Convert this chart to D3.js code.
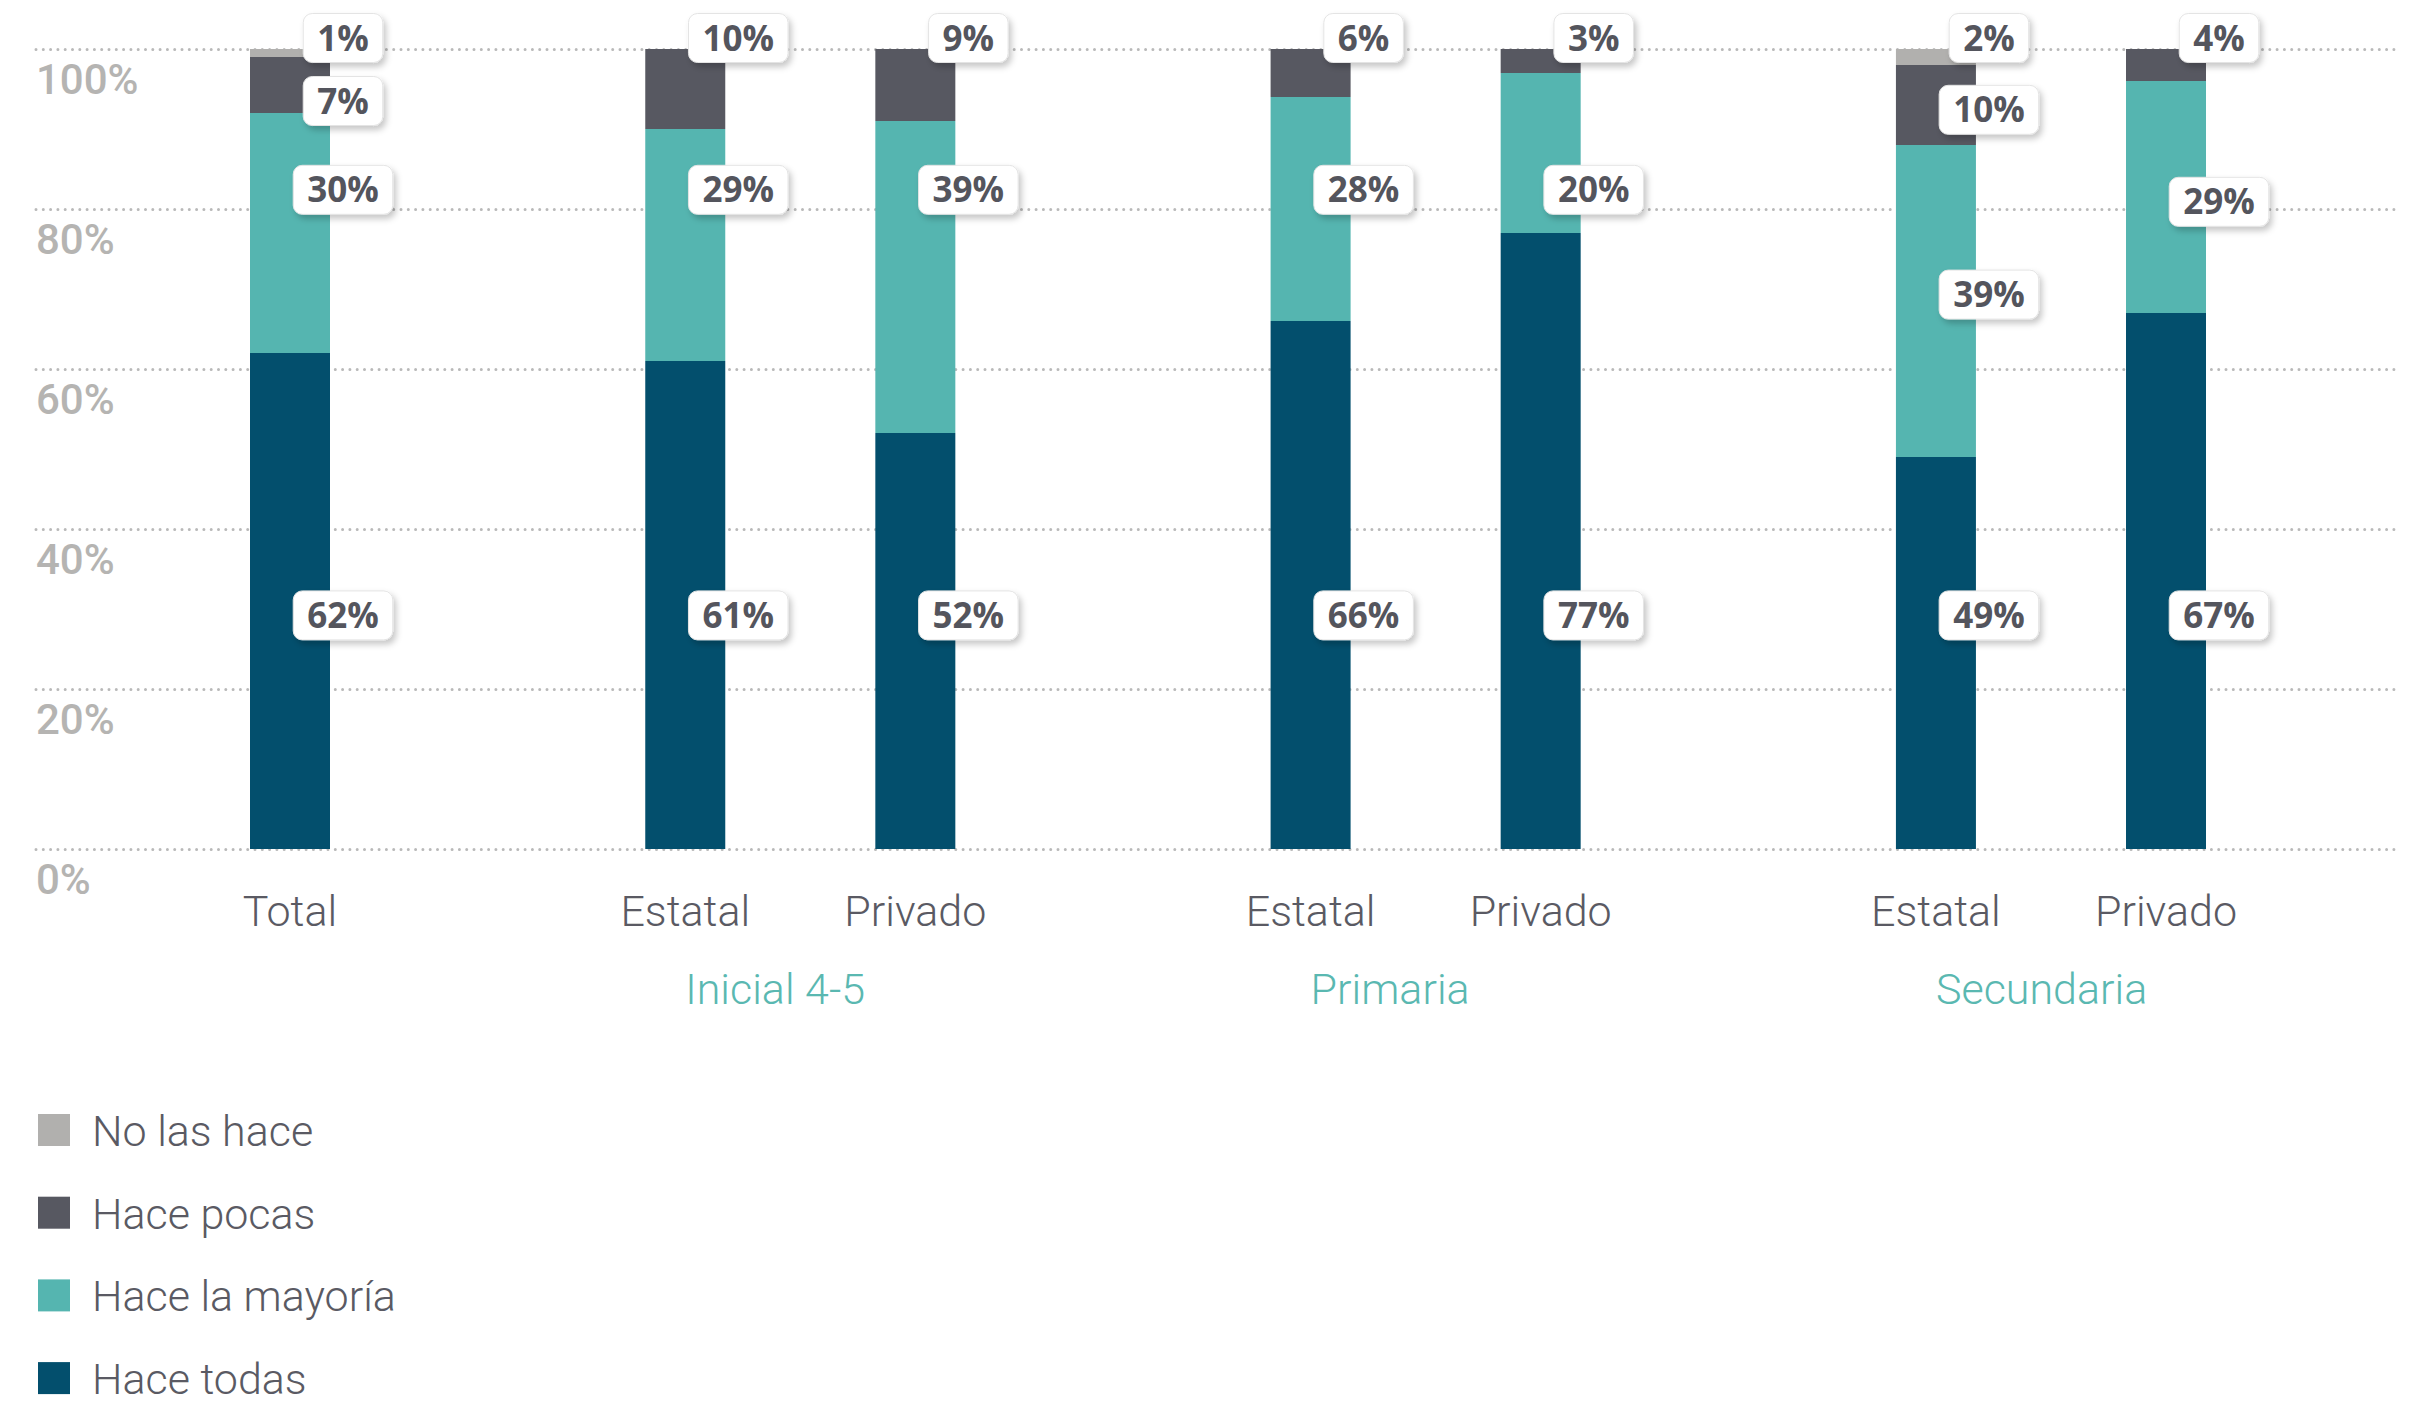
<!DOCTYPE html>
<html><head><meta charset="utf-8">
<script src="https://cdn.jsdelivr.net/npm/d3@7"></script>
<style>
html,body{margin:0;padding:0;background:#fff;}
svg{display:block;}
</style></head><body>
<svg id="chart" width="2418" height="1401"></svg>
<script>
// ---- data ----
const categories = ["Total", "Estatal", "Privado", "Estatal", "Privado", "Estatal", "Privado"];
const groupOfCategory = [0, 1, 1, 2, 2, 3, 3];
const groups = ["", "Inicial 4-5", "Primaria", "Secundaria"];
const seriesNames = ["Hace todas", "Hace la mayoría", "Hace pocas", "No las hace"]; // bottom -> top
const haceTodas   = [62, 61, 52, 66, 77, 49, 67];
const haceMayoria = [30, 29, 39, 28, 20, 39, 29];
const hacePocas   = [7, 10, 9, 6, 3, 10, 4];
const noLasHace   = [1, 0, 0, 0, 0, 2, 0];
const yTicks = [0, 20, 40, 60, 80, 100];
// level (in %) where each data label sits; null = label sits on top of the bar
const labelTodas   = [29.2, 29.2, 29.2, 29.2, 29.2, 29.2, 29.2];
const labelMayoria = [82.4, 82.4, 82.4, 82.4, 82.4, 69.3, 80.9];
const labelPocas   = [93.5, null, null, null, null, 92.4, null];
const labelNo      = [null, null, null, null, null, null, null];

// ---- styles ----
const colors = {
  "Hace todas": "#034f6d",
  "Hace la mayoría": "#55b5b0",
  "Hace pocas": "#575861",
  "No las hace": "#b1b0ae"
};
const textColor = "#5a5a63";
const svg = d3.select("#chart");

const rows = categories.map((c, i) => ({
  i, cat: c,
  "Hace todas": haceTodas[i],
  "Hace la mayoría": haceMayoria[i],
  "Hace pocas": hacePocas[i],
  "No las hace": noLasHace[i]
}));
const labelLevels = {
  "Hace todas": labelTodas,
  "Hace la mayoría": labelMayoria,
  "Hace pocas": labelPocas,
  "No las hace": labelNo
};

const GAP = 0.718; // extra spacing between groups, in bar-steps
const slot = i => i + groupOfCategory[i] * GAP;
const x = d3.scaleLinear().domain([0, slot(categories.length - 1)]).range([290, 2166]);
const y = d3.scaleLinear().domain([0, 100]).range([849, 49]);
const barW = 80;

// defs: shadow
const defs = svg.append("defs");
const f = defs.append("filter").attr("id", "shadow").attr("x", "-30%").attr("y", "-30%").attr("width", "160%").attr("height", "170%");
f.append("feDropShadow").attr("dx", 3).attr("dy", 4).attr("stdDeviation", 3)
  .attr("flood-color", "#000").attr("flood-opacity", 0.22);

// grid + y labels
const gridLeft = 36, gridRight = 2400;
const yAxis = d3.axisRight(y).tickValues(yTicks).tickSize(gridRight - gridLeft).tickFormat(d => d + "%");
const gAxis = svg.append("g").attr("transform", `translate(${gridLeft},0)`).call(yAxis);
gAxis.select(".domain").remove();
gAxis.selectAll(".tick line")
  .attr("stroke", "#b9b9b9").attr("stroke-width", 3)
  .attr("stroke-linecap", "round").attr("stroke-dasharray", "0 7.3");
gAxis.selectAll(".tick text")
  .attr("x", 0).attr("dy", null).attr("y", 44)
  .attr("text-anchor", "start")
  .attr("fill", "#b5b4b2")
  .style("font-family", "Roboto, 'Open Sans', sans-serif")
  .style("font-weight", 500)
  .style("font-size", "42px");

// stacked bars
const stacked = d3.stack().keys(seriesNames)(rows);
const gBars = svg.append("g");
stacked.forEach(layer => {
  gBars.append("g").attr("fill", colors[layer.key])
    .selectAll("rect").data(layer).join("rect")
    .attr("x", d => x(slot(d.data.i)) - barW / 2)
    .attr("width", barW)
    .attr("y", d => y(d[1]))
    .attr("height", d => Math.max(0, y(d[0]) - y(d[1])));
});

// x labels
svg.append("g").selectAll("text").data(rows).join("text")
  .attr("x", d => x(slot(d.i)))
  .attr("y", 926)
  .attr("text-anchor", "middle")
  .attr("fill", textColor)
  .style("font-family", "Roboto, sans-serif")
  .style("font-weight", 300)
  .style("font-size", "43px")
  .text(d => d.cat);

// group labels (start at first bar of the group)
const groupFirst = groups.map((g, gi) => groupOfCategory.indexOf(gi));
svg.append("g").selectAll("text").data(groups.map((g, gi) => ({ g, gi })).filter(d => d.g))
  .join("text")
  .attr("x", d => x(slot(groupFirst[d.gi])))
  .attr("y", 1004)
  .attr("text-anchor", "start")
  .attr("fill", "#5ab8b1")
  .style("font-family", "Roboto, sans-serif")
  .style("font-weight", 300)
  .style("font-size", "43px")
  .text(d => d.g);

// data labels
const labels = [];
rows.forEach((r, i) => {
  let topKey = null;
  seriesNames.forEach(k => { if (r[k] > 0) topKey = k; });
  let cum = 0;
  seriesNames.forEach(k => {
    const v = r[k];
    const lo = cum; cum += v;
    if (v <= 0) return;
    let cy;
    if (k === topKey) cy = y(cum) - 11;
    else {
      const lvl = labelLevels[k][i];
      cy = y(lvl != null ? lvl : (lo + cum) / 2);
    }
    labels.push({ i, k, v, cx: x(slot(i)) + 53, cy });
  });
});
const gLab = svg.append("g");
const lg = gLab.selectAll("g").data(labels).join("g")
  .attr("transform", d => `translate(${d.cx},${d.cy})`);
lg.append("rect").attr("class", "box")
  .attr("rx", 9).attr("ry", 9)
  .attr("fill", "#fff").attr("stroke", "#e4e4e4").attr("stroke-width", 1)
  .attr("filter", "url(#shadow)");
lg.append("text")
  .attr("text-anchor", "middle").attr("dy", "0.36em")
  .attr("fill", "#54555d")
  .style("font-family", "'Open Sans', sans-serif")
  .style("font-weight", 700)
  .style("font-size", "35px")
  .text(d => d.v + "%");
lg.each(function () {
  const g = d3.select(this);
  const w = g.select("text").node().getComputedTextLength() + 28;
  g.select("rect").attr("x", -w / 2).attr("y", -24.5).attr("width", w).attr("height", 49);
});

// legend
const legendItems = seriesNames.slice().reverse();
const leg = svg.append("g").selectAll("g").data(legendItems).join("g")
  .attr("transform", (d, i) => `translate(38,${1114 + i * 82.7})`);
leg.append("rect").attr("width", 32).attr("height", 32).attr("fill", d => colors[d]);
leg.append("text").attr("x", 54).attr("y", 32)
  .attr("fill", textColor)
  .style("font-family", "Roboto, sans-serif")
  .style("font-weight", 300)
  .style("font-size", "43px")
  .text(d => d);
</script>
</body></html>
